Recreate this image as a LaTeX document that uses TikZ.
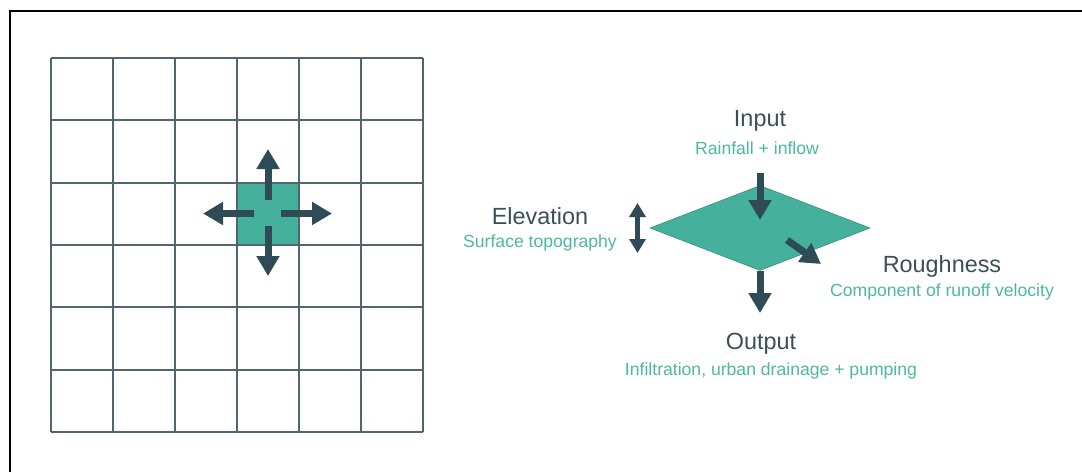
\documentclass[tikz,border=0pt]{standalone}
\usepackage{fontspec}
\setmainfont{Liberation Sans}
\usetikzlibrary{arrows.meta,shapes.geometric}
\definecolor{gridgray}{HTML}{506570}
\definecolor{slate}{HTML}{2F4B58}
\definecolor{inktext}{HTML}{3C4E58}
\definecolor{tealfill}{HTML}{45B09C}
\definecolor{tealtext}{HTML}{4DB89F}
\tikzset{
  flowarrow/.style={slate, line width=3.5pt, -{Triangle[width=11pt,length=10pt]}},
  elevarrow/.style={slate, line width=2.5pt, {Triangle[width=8pt,length=7pt]}-{Triangle[width=8pt,length=7pt]}},
  title/.style={text=inktext, font=\fontsize{11.7}{14}\selectfont, inner sep=0pt},
  subtitle/.style={text=tealtext, font=\fontsize{8.8}{10.5}\selectfont, inner sep=0pt}
}
\begin{document}
\begin{tikzpicture}[x=0.5pt,y=-0.5pt]
	\useasboundingbox (0,0) rectangle (1082,472);
	\draw [black, line width=1pt] (9.5,472) -- (9.5,11) -- (1082,11);
	\node [fill=tealfill, minimum size=31pt, inner sep=0pt] (cell) at (268,213.5) {};
	\foreach \k in {0,...,6} {
		\draw [gridgray, line width=1.1pt] (51+62*\k,58) -- (51+62*\k,432);
		\draw [gridgray, line width=1.1pt] (51,58+62.33*\k) -- (423,58+62.33*\k);
	}
	\coordinate (cellN) at (268,200);
	\coordinate (cellS) at (268,226);
	\coordinate (cellW) at (254,213.5);
	\coordinate (cellE) at (281,213.5);
	\coordinate (outN) at (268,149);
	\coordinate (outS) at (268,276);
	\coordinate (outW) at (203,213.5);
	\coordinate (outE) at (332,213.5);
	\draw [flowarrow] (cellN) -- (outN);
	\draw [flowarrow] (cellS) -- (outS);
	\draw [flowarrow] (cellW) -- (outW);
	\draw [flowarrow] (cellE) -- (outE);
	\node [diamond, fill=tealfill, draw=tealfill!80!black, line width=0.3pt, minimum width=110pt, minimum height=42.5pt, inner sep=0pt] (patch) at (760,228) {};
	\node [title] (input) at (760,121) {Input};
	\node [subtitle] (inputsub) at (757,148) {Rainfall + inflow};
	\node [title] (elev) at (540,216) {Elevation};
	\node [subtitle] (elevsub) at (540,243) {Surface topography};
	\node [title] (rough) at (942,266) {Roughness};
	\node [subtitle] (roughsub) at (942,292) {Component of runoff velocity};
	\node [title] (output) at (761,344) {Output};
	\node [subtitle] (outputsub) at (771,371) {Infiltration, urban drainage + pumping};
	\coordinate (rainTop) at (760,173);
	\coordinate (rainEnd) at (760,220);
	\coordinate (roughStart) at (787,240);
	\coordinate (roughEnd) at (821,264);
	\coordinate (outEnd) at (760,313);
	\coordinate (elevTop) at (637.5,203);
	\coordinate (elevBot) at (637.5,253);
	\draw [flowarrow] (rainTop) -- (rainEnd);
	\draw [flowarrow] (roughStart) -- (roughEnd);
	\draw [flowarrow] (patch.south) -- (outEnd);
	\draw [elevarrow] (elevTop) -- (elevBot);
\end{tikzpicture}
\end{document}
